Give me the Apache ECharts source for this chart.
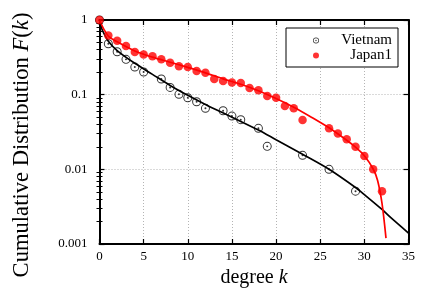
<!DOCTYPE html>
<html>
<head>
<meta charset="utf-8">
<script src="https://cdn.jsdelivr.net/npm/echarts@6/dist/echarts.min.js"></script>
<style>html,body{margin:0;padding:0;background:#fff;}#c{width:436px;height:305px;}</style>
</head>
<body>
<div id="c"></div>
<script>
// ---- data ----
const vietnamK = [0,1,2,3,4,5,7,8,9,10,11,12,14,15,16,18,19,23,26,29];
const vietnamF = [1,0.48,0.376,0.297,0.234,0.201,0.162,0.125,0.101,0.091,0.0805,0.0656,0.061,0.0517,0.0463,0.0354,0.0203,0.0154,0.0100,0.0051];

const japanK = [0,1,2,3,4,5,6,7,8,9,10,11,12,13,14,15,16,17,18,19,20,21,22,23,26,27,28,29,30,31,32];
const japanF = [1,0.622,0.528,0.448,0.372,0.346,0.326,0.297,0.268,0.241,0.234,0.207,0.197,0.162,0.152,0.146,0.143,0.123,0.115,0.0958,0.091,0.0703,0.0656,0.0457,0.0354,0.0303,0.0252,0.0201,0.0151,0.0100,0.0051];

// fitted curves, sampled by eye from the reference
const vietnamFitK = [0,0.25,0.5,1,2,4,6,8,10,12,15,18,20,23,26,29,30,32,33,35];
const vietnamFitF = [1,0.77,0.66,0.52,0.39,0.263,0.187,0.133,0.098,0.074,0.05,0.0336,0.0249,0.0159,0.01,0.0057,0.00458,0.0029,0.00225,0.0014];

const japanFitK = [0,0.5,1,2,4,6,8,10,12,14,16,18,20,22,24,26,28,29,30,31,31.5,32,32.45];
const japanFitF = [1,0.75,0.61,0.51,0.385,0.318,0.272,0.232,0.196,0.163,0.138,0.113,0.089,0.068,0.05,0.036,0.0245,0.0198,0.0152,0.0101,0.0071,0.0035,0.0012];

const xTicks = [0,5,10,15,20,25,30,35];
const yTicks = [0.001,0.01,0.1,1];
const seriesNames = ['Vietnam','Japan1'];

// ---- build ----
const pair = (ks, fs) => ks.map((k, i) => [k, fs[i]]);
const minorY = [];
for (let d = 0; d < yTicks.length - 1; d++) {
  for (let m = 2; m <= 9; m++) minorY.push(+(m * yTicks[d]).toPrecision(3));
}
const FONT = 'Liberation Serif';
const ringPath = 'path://M0 -10A10 10 0 1 1 0 10A10 10 0 1 1 0 -10ZM0 -7.8A7.8 7.8 0 1 0 0 7.8A7.8 7.8 0 1 0 0 -7.8ZM0 -2.2A2.2 2.2 0 1 1 0 2.2A2.2 2.2 0 1 1 0 -2.2Z';
const gridLine = {show: true, lineStyle: {color: '#b4b4b4', width: 1, type: [1, 2]}};
const frame = {show: true, onZero: false, lineStyle: {color: '#000', width: 2}};

function yAx(pos, opts) {
  return Object.assign({
    type: 'log', logBase: 10, min: yTicks[0], max: yTicks[yTicks.length - 1],
    position: pos, axisLine: {show: false}, axisLabel: {show: false},
    axisTick: {show: false}, splitLine: {show: false}, minorTick: {show: false}
  }, opts);
}

const chart = echarts.init(document.getElementById('c'), null, {renderer: 'canvas'});
chart.setOption({
  animation: false,
  backgroundColor: '#fff',
  grid: {left: 99.5, right: 27.5, top: 20, bottom: 61, containLabel: false},
  xAxis: [
    {
      type: 'value', min: xTicks[0], max: xTicks[xTicks.length - 1], interval: 5,
      position: 'bottom', axisLine: frame,
      axisTick: {show: true, inside: true, length: 5, lineStyle: {color: '#000', width: 1.2}},
      axisLabel: {show: true, margin: 6, fontFamily: FONT, fontSize: 13, color: '#000'},
      splitLine: gridLine,
      name: 'degree {i|k}', nameLocation: 'middle', nameGap: 23,
      nameTextStyle: {fontFamily: FONT, fontSize: 20, color: '#000',
        rich: {i: {fontFamily: FONT, fontSize: 20, fontStyle: 'italic', color: '#000'}}}
    },
    {
      type: 'value', min: xTicks[0], max: xTicks[xTicks.length - 1], interval: 5,
      position: 'top', axisLine: frame,
      axisTick: {show: true, inside: true, length: 5, lineStyle: {color: '#000', width: 1.2}},
      axisLabel: {show: false}, splitLine: {show: false}
    }
  ],
  yAxis: [
    yAx('left', {
      axisLine: frame,
      axisTick: {show: true, inside: true, length: 5, lineStyle: {color: '#000', width: 1.2}},
      axisLabel: {show: true, margin: 12, fontFamily: FONT, fontSize: 13, color: '#000',
        formatter: v => String(+v.toPrecision(3))},
      splitLine: gridLine,
      name: 'Cumulative Distribution {i|F}({i|k})', nameLocation: 'middle', nameGap: 66,
      nameRotate: 90,
      nameTextStyle: {fontFamily: FONT, fontSize: 22.6, color: '#000', padding: [0, 26, 0, 0],
        rich: {i: {fontFamily: FONT, fontSize: 22.6, fontStyle: 'italic', color: '#000'}}}
    }),
    yAx('right', {
      axisLine: frame,
      axisTick: {show: true, inside: true, length: 5, lineStyle: {color: '#000', width: 1.2}}
    }),
    yAx('left', {
      axisTick: {show: true, inside: true, length: 3, customValues: minorY, lineStyle: {color: '#000', width: 1}}
    }),
    yAx('right', {
      axisTick: {show: true, inside: true, length: 3, customValues: minorY, lineStyle: {color: '#000', width: 1}}
    })
  ],
  legend: {
    data: seriesNames, orient: 'vertical', left: 286, top: 28,
    padding: [5, 6, 4, 27], itemGap: 0, itemWidth: 6, itemHeight: 6,
    borderColor: '#000', borderWidth: 1, backgroundColor: '#fff', selectedMode: false,
    formatter: n => '{r|' + n + '}',
    textStyle: {fontFamily: FONT, fontSize: 15, color: '#000',
      rich: {r: {width: 68, align: 'right', height: 14.3, lineHeight: 14.3, fontFamily: FONT, fontSize: 15, color: '#000'}}}
  },
  series: [
    {
      name: 'VietnamFit', type: 'line', xAxisIndex: 0, yAxisIndex: 0,
      data: pair(vietnamFitK, vietnamFitF), smooth: 0.3, showSymbol: false, symbol: 'none',
      lineStyle: {color: '#000', width: 1.7}, z: 2
    },
    {
      name: 'JapanFit', type: 'line', xAxisIndex: 0, yAxisIndex: 0,
      data: pair(japanFitK, japanFitF), smooth: 0.3, showSymbol: false, symbol: 'none',
      lineStyle: {color: '#ff0000', width: 1.7}, z: 2
    },
    {
      name: seriesNames[0], type: 'scatter', xAxisIndex: 0, yAxisIndex: 0,
      data: pair(vietnamK, vietnamF), symbol: ringPath, symbolSize: 9,
      itemStyle: {color: '#000'}, z: 3
    },
    {
      name: seriesNames[1], type: 'scatter', xAxisIndex: 0, yAxisIndex: 0,
      data: pair(japanK, japanF), symbol: 'circle', symbolSize: 8.5,
      itemStyle: {color: '#ff0000'}, z: 4
    }
  ]
});
</script>
</body>
</html>
